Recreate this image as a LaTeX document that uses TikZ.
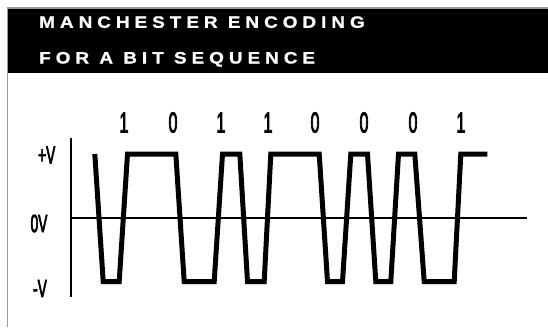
\documentclass[tikz,border=0pt]{standalone}
\usepackage{fontspec}
\usepackage{tikz}
\usetikzlibrary{positioning}
\newfontfamily\ttlfont{Liberation Sans Bold}[FakeStretch=1.15,LetterSpace=30,FakeBold=1]
\newfontfamily\lblfont{Liberation Sans}[FakeStretch=0.55,FakeBold=2.5]

\begin{document}
\begin{tikzpicture}[
    x=1pt, y=-1pt,
    ttl/.style={font=\ttlfont\fontsize{16.5}{16.5}\selectfont, text=white, anchor=base west, inner sep=0pt},
    lvl/.style={font=\lblfont\fontsize{25}{25}\selectfont, inner sep=0pt},
    bit/.style={font=\lblfont\fontsize{29}{29}\selectfont, inner sep=0pt},
    wave/.style={line width=5pt, line join=miter},
]
\useasboundingbox (0,0) rectangle (548,327);
% frame and title band
\fill[black] (8,9) rectangle (548,73.3);
\draw[gray!80, line width=1.5pt] (7.3,327) -- (7.3,8) -- (548,8);
\node[ttl] (ttlA) at (39,27.8) {MANCHESTER ENCODING};
\node[ttl] (ttlB) at (39,63.5) {FOR A BIT SEQUENCE};
% axes
\coordinate (ytop) at (70.7,138);
\coordinate (ybot) at (70.7,297);
\coordinate (zl) at (70.7,217.5);
\coordinate (zr) at (527,217.5);
\draw[line width=1.7pt] (ytop) -- (ybot);
\draw[line width=2pt] (zl) -- (zr);
\node[lvl] (pv) at (46.7,155) {+V};
\node[lvl] (zv) at (39,223.5) {0V};
\node[lvl] (nv) at (40,288.5) {-V};
% bit labels
\foreach \b/\x [count=\i] in {1/124,0/173,1/221,1/268,0/315,0/364,0/413,1/461}
  \node[bit] (b\i) at (\x,122.5) {\b};
% signal
\draw[wave] (94.8,154) -- (103.2,281.5) -- (119.2,281.5) -- (127.5,154)
  -- (175.8,154) -- (184.2,281.5) -- (214.2,281.5) -- (222.5,154)
  -- (239.8,154) -- (247.5,281.5) -- (264.2,281.5) -- (270.8,154)
  -- (319.2,154) -- (327.5,281.5) -- (342.5,281.5) -- (350.8,154)
  -- (367.5,154) -- (375.8,281.5) -- (390.8,281.5) -- (398.5,154)
  -- (414.8,154) -- (424.2,281.5) -- (454.2,281.5) -- (460.8,154)
  -- (487.3,154);
\end{tikzpicture}
\end{document}
